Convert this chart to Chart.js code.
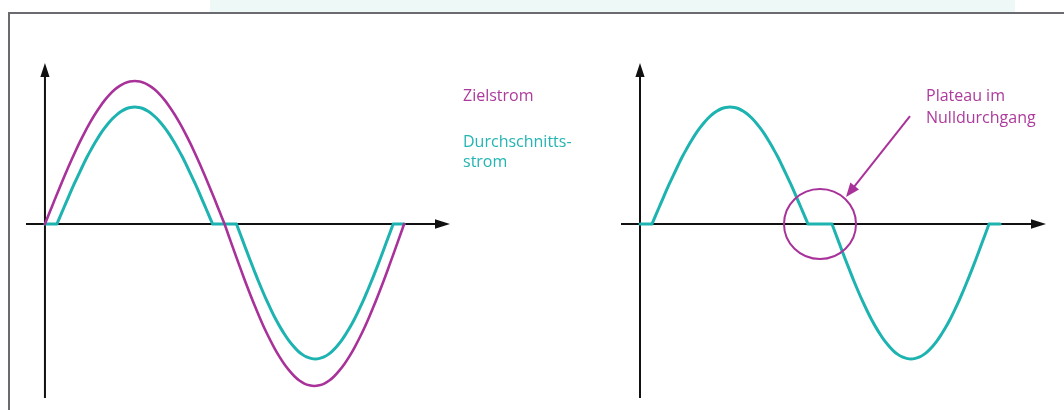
<!DOCTYPE html>
<html><head><meta charset="utf-8">
<script src="https://cdn.jsdelivr.net/npm/chart.js@4.4.1/dist/chart.umd.min.js"></script>
<style>
html,body{margin:0;padding:0;background:#fff;}
#wrap{position:relative;width:1064px;height:410px;overflow:hidden;font-family:"Open Sans","Noto Sans",sans-serif;}
#band{position:absolute;left:210px;top:0;width:805px;height:12px;background:#eef8f7;}
#frame{position:absolute;left:8px;top:12px;width:1100px;height:420px;border-top:2px solid #6a6b70;border-left:2px solid #6a6b70;}
canvas{position:absolute;left:0;top:0;}
.lbl{position:absolute;font-size:16px;line-height:20px;white-space:nowrap;}
</style></head><body>
<div id="wrap">
<div id="band"></div><div id="frame"></div>
<canvas id="leftChart" width="1064" height="410"></canvas>
<canvas id="rightChart" width="1064" height="410"></canvas>
<div class="lbl" style="left:463px;top:85px;color:#ad3a9c">Zielstrom</div>
<div class="lbl" style="left:463px;top:131px;color:#22b5b3">Durchschnitts-<br>strom</div>
<div class="lbl" style="left:926px;top:84px;color:#ad3a9c;line-height:22px">Plateau im<br>Nulldurchgang</div>
</div>
<script>
// Phase in degrees, current in units of the target peak
const targetPhase = [0,5,10,15,20,25,30,35,40,45,50,55,60,65,70,75,80,85,90,95,100,105,110,115,120,125,130,135,140,145,150,155,160,165,170,175,180,
  185,190,195,200,205,210,215,220,225,230,235,240,245,250,255,260,265,270,275,280,285,290,295,300,305,310,315,320,325,330,335,340,345,350,355,360];
const targetValue = [0,0.087,0.174,0.259,0.342,0.423,0.500,0.574,0.643,0.707,0.766,0.819,0.866,0.906,0.940,0.966,0.985,0.996,1.000,
  0.996,0.985,0.966,0.940,0.906,0.866,0.819,0.766,0.707,0.643,0.574,0.500,0.423,0.342,0.259,0.174,0.087,0,
  -0.099,-0.197,-0.293,-0.388,-0.479,-0.567,-0.650,-0.729,-0.801,-0.868,-0.928,-0.981,-1.026,-1.065,-1.095,-1.116,-1.128,-1.133,
  -1.128,-1.116,-1.095,-1.065,-1.026,-0.981,-0.928,-0.868,-0.801,-0.729,-0.650,-0.567,-0.479,-0.388,-0.293,-0.197,-0.099,0];

const avgPhase = [0,12,12,
  12,16.3,20.7,25,29.3,33.7,38,42.3,46.7,51,55.3,59.7,64,68.3,72.7,77,81.3,85.7,90,
  94.3,98.7,103,107.3,111.7,116,120.3,124.7,129,133.3,137.7,142,146.3,150.7,155,159.3,163.7,168,168,
  168,192,192,
  192,196.4,200.8,205.2,209.6,213.9,218.3,222.7,227.1,231.5,235.9,240.3,244.7,249.1,253.4,257.8,262.2,266.6,271,
  275.3,279.7,284,288.3,292.7,297,301.3,305.7,310,314.3,318.7,323,327.3,331.7,336,340.3,344.7,349,349,
  349,360];
const avgValue = [0,0,null,
  0,0.071,0.142,0.212,0.280,0.346,0.409,0.470,0.526,0.578,0.627,0.670,0.708,0.741,0.769,0.790,0.806,0.815,0.818,
  0.815,0.806,0.790,0.769,0.741,0.708,0.670,0.627,0.578,0.526,0.470,0.409,0.346,0.280,0.212,0.142,0.071,0,null,
  0,0,null,
  0,-0.082,-0.164,-0.245,-0.323,-0.399,-0.472,-0.542,-0.607,-0.668,-0.723,-0.773,-0.818,-0.855,-0.887,-0.912,-0.930,-0.940,-0.944,
  -0.940,-0.930,-0.912,-0.887,-0.855,-0.818,-0.773,-0.723,-0.668,-0.607,-0.542,-0.472,-0.399,-0.323,-0.245,-0.164,-0.082,0,null,
  0,0];

const xRange = [-19, 406];
const yRange = [-1.217, 1.126];

// annotation (data units)
const plateauCenter = [180, 0];
const plateauRadius = [36, 0.245];
const pointerFrom = [270, 0.755];
const pointerTo = [206, 0.189];

const MAGENTA = '#a8329a';
const CYAN = '#1db3b0';

function pts(xs, ys){ return xs.map((x,i)=>({x:x, y:ys[i]})); }

const axesPlugin = {
  id:'axesArrows',
  beforeDatasetsDraw(chart){
    const {ctx, chartArea:a, scales:{x, y}} = chart;
    const y0 = y.getPixelForValue(0), x0 = x.getPixelForValue(0);
    ctx.save();
    ctx.strokeStyle = '#111'; ctx.fillStyle = '#111'; ctx.lineWidth = 2;
    ctx.beginPath();
    ctx.moveTo(a.left, y0); ctx.lineTo(a.right - 10, y0);
    ctx.moveTo(x0, a.bottom); ctx.lineTo(x0, a.top + 10);
    ctx.stroke();
    ctx.beginPath();
    ctx.moveTo(a.right, y0); ctx.lineTo(a.right - 15, y0 - 4.8); ctx.lineTo(a.right - 15, y0 + 4.8); ctx.closePath();
    ctx.moveTo(x0, a.top); ctx.lineTo(x0 - 4.6, a.top + 14); ctx.lineTo(x0 + 4.6, a.top + 14); ctx.closePath();
    ctx.fill();
    ctx.restore();
  }
};

const plateauPlugin = {
  id:'plateauMark',
  afterDatasetsDraw(chart){
    const {ctx, scales:{x, y}} = chart;
    const cx = x.getPixelForValue(plateauCenter[0]), cy = y.getPixelForValue(plateauCenter[1]);
    const rx = x.getPixelForValue(plateauCenter[0] + plateauRadius[0]) - cx;
    const ry = cy - y.getPixelForValue(plateauCenter[1] + plateauRadius[1]);
    ctx.save();
    ctx.strokeStyle = MAGENTA; ctx.fillStyle = MAGENTA; ctx.lineWidth = 2;
    ctx.beginPath(); ctx.ellipse(cx, cy, rx, ry, 0, 0, Math.PI*2); ctx.stroke();
    const fx = x.getPixelForValue(pointerFrom[0]), fy = y.getPixelForValue(pointerFrom[1]);
    const tx = x.getPixelForValue(pointerTo[0]), ty = y.getPixelForValue(pointerTo[1]);
    const ang = Math.atan2(ty - fy, tx - fx);
    const L = 14, W = 5.5;
    const bx = tx - L*Math.cos(ang), by = ty - L*Math.sin(ang);
    ctx.beginPath(); ctx.moveTo(fx, fy); ctx.lineTo(bx + 2*Math.cos(ang), by + 2*Math.sin(ang)); ctx.stroke();
    ctx.beginPath();
    ctx.moveTo(tx, ty);
    ctx.lineTo(bx + W*Math.sin(ang), by - W*Math.cos(ang));
    ctx.lineTo(bx - W*Math.sin(ang), by + W*Math.cos(ang));
    ctx.closePath(); ctx.fill();
    ctx.restore();
  }
};

function makeChart(id, datasets, padding, extraPlugins){
  return new Chart(document.getElementById(id), {
    type:'line',
    data:{datasets},
    options:{
      responsive:false, animation:false, devicePixelRatio:1,
      layout:{padding},
      plugins:{legend:{display:false}, tooltip:{enabled:false}, title:{display:false}},
      elements:{point:{radius:0}, line:{cubicInterpolationMode:'monotone', borderCapStyle:'round', borderJoinStyle:'round'}},
      scales:{
        x:{type:'linear', min:xRange[0], max:xRange[1], display:false},
        y:{type:'linear', min:yRange[0], max:yRange[1], display:false}
      }
    },
    plugins:[axesPlugin].concat(extraPlugins)
  });
}

makeChart('leftChart', [
  {label:'Zielstrom', data:pts(targetPhase, targetValue), borderColor:MAGENTA, borderWidth:2.6, clip:false, spanGaps:false},
  {label:'Durchschnittsstrom', data:pts(avgPhase, avgValue), borderColor:CYAN, borderWidth:3, clip:false, spanGaps:false}
], {left:26, right:614, top:63, bottom:12}, []);

makeChart('rightChart', [
  {label:'Durchschnittsstrom', data:pts(avgPhase, avgValue), borderColor:CYAN, borderWidth:3, clip:false, spanGaps:false}
], {left:621, right:18, top:63, bottom:12}, [plateauPlugin]);
</script>
</body></html>
